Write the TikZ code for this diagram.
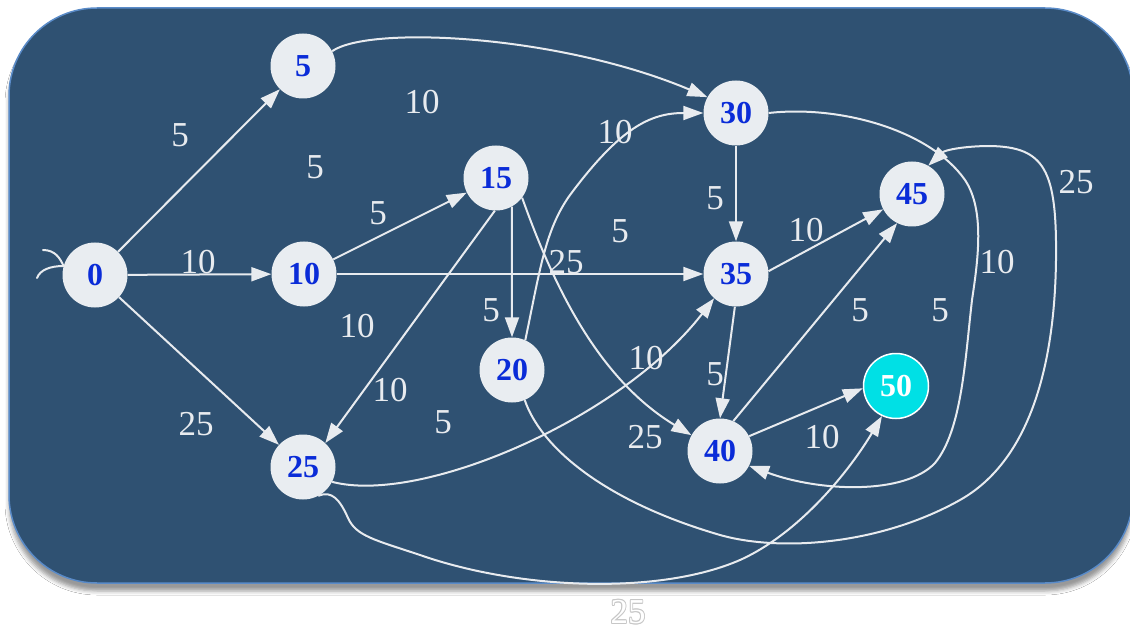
\documentclass[tikz,border=0pt]{standalone}
\usepackage{fontspec}
\setmainfont{Liberation Serif}
\usetikzlibrary{arrows.meta,shadows.blur}
\definecolor{bg}{HTML}{2F5172}
\definecolor{bord}{HTML}{5A8BC8}
\definecolor{edgec}{HTML}{E8EBEF}
\definecolor{nodefill}{HTML}{E9EDF1}
\definecolor{numblue}{HTML}{0A2CD8}
\definecolor{cyanfill}{HTML}{00E0E5}
\begin{document}
\begin{tikzpicture}[x=1pt,y=-1pt,
  state/.style={circle,fill=nodefill,minimum size=65pt,inner sep=0pt,
    font=\fontsize{32}{32}\selectfont\bfseries,text=numblue},
  final/.style={state,fill=cyanfill,draw=white,line width=1.5pt,text=white},
  arr/.style={draw=edgec,line width=2pt,-{Triangle[length=20pt,width=14pt]}},
  plain/.style={draw=edgec,line width=2pt,line cap=round},
  lbl/.style={text=edgec,font=\fontsize{35}{35}\selectfont,inner sep=0pt}]
\useasboundingbox (0,0) rectangle (1130,631);
\fill[white] (0,0) rectangle (1130,631);
\filldraw[fill=bg,draw=bord,line width=1.5pt,rounded corners=88pt,
  blur shadow={shadow xshift=0pt,shadow yshift=-8pt,shadow blur radius=4pt,shadow opacity=40}]
  (9,8) rectangle (1133,583);

% nodes
\node[state] (n0)  at (95,275)  {0};
\node[state] (n5)  at (303,66)  {5};
\node[state] (n10) at (304,274) {10};
\node[state] (n15) at (496,178) {15};
\node[state] (n20) at (512,370) {20};
\node[state] (n25) at (303,467) {25};
\node[state] (n30) at (736,113) {30};
\node[state] (n35) at (736,274) {35};
\node[state] (n40) at (720,451) {40};
\node[state] (n45) at (912,194) {45};
\node[final] (n50) at (896,386) {50};

% start mark
\coordinate (s1) at (37,278);
\coordinate (s2) at (43,250);
\draw[plain] (s1) .. controls (40,270) and (50,266) .. (n0.164);
\draw[plain] (s2) .. controls (55,250) and (60,258) .. (n0.164);

% straight edges
\draw[arr] (n0) -- (n5);
\draw[arr] (n0) -- (n10);
\draw[arr] (n0) -- (n25);
\draw[arr] (n10) -- (n15);
\draw[arr] (n10) -- (n35);
\draw[arr] (n15.-92) -- (n25.47);
\draw[arr] (n15.-61) -- (n20.north);
\draw[arr] (n30) -- (n35);
\draw[arr] (n35.-92) -- (n40.north);
\draw[arr] (n35.5) -- (n45.-152);
\draw[arr] (n40.66) -- (n45.-117);
\draw[arr] (n40.27) -- (n50.-176);

% curved edges
\draw[arr] (n5.27) .. controls (370,25) and (560,35) .. (n30.151);
\draw[arr] (n15.-37) .. controls (555,290) and (600,380) .. (n40.151);
\draw[arr] (n20.66) .. controls (540,270) and (545,230) .. (570,195)
  .. controls (620,128) and (650,113) .. (n30.west);
\draw[arr] (n25.-27) .. controls (420,505) and (620,420) .. (n35.-132);
\draw[arr] (n25.-62) .. controls (332,490) and (340,500) .. (348,518)
  .. controls (356,536) and (375,540) .. (420,555)
  .. controls (520,590) and (660,595) .. (740,560)
  .. controls (800,533) and (850,470) .. (n50.-115);
\draw[arr] (n20.-67) .. controls (540,445) and (600,500) .. (720,535)
  .. controls (780,552) and (880,545) .. (960,500)
  .. controls (1040,455) and (1055,340) .. (1056,260)
  .. controls (1057,170) and (1045,147) .. (990,146)
  .. controls (965,146) and (945,150) .. (n45.60);
\draw[arr] (n30.east) .. controls (840,105) and (930,130) .. (965,180)
  .. controls (985,210) and (978,260) .. (972,300)
  .. controls (965,360) and (962,430) .. (935,463)
  .. controls (905,495) and (820,492) .. (n40.-27);

% labels
\node[lbl] (l1)  at (180,135) {5};
\node[lbl] (l2)  at (422,102) {10};
\node[lbl] (l3)  at (315,167) {5};
\node[lbl] (l4)  at (378,213) {5};
\node[lbl] (l5)  at (198,262) {10};
\node[lbl] (l6)  at (357,326) {10};
\node[lbl] (l7)  at (390,390) {10};
\node[lbl] (l8)  at (196,424) {25};
\node[lbl] (l9)  at (443,422) {5};
\node[lbl] (l10) at (491,310) {5};
\node[lbl] (l11) at (566,262) {25};
\node[lbl] (l12) at (615,132) {10};
\node[lbl] (l13) at (620,231) {5};
\node[lbl] (l14) at (715,198) {5};
\node[lbl] (l15) at (806,230) {10};
\node[lbl] (l16) at (1076,182) {25};
\node[lbl] (l17) at (997,262) {10};
\node[lbl] (l18) at (860,310) {5};
\node[lbl] (l19) at (940,310) {5};
\node[lbl] (l20) at (646,358) {10};
\node[lbl] (l21) at (715,374) {5};
\node[lbl] (l22) at (645,437) {25};
\node[lbl] (l23) at (822,437) {10};

% faint outlined label below the box
\foreach \dx/\dy [count=\k] in {-0.8/0,0.8/0,0/-0.8,0/0.8,-0.6/-0.6,0.6/0.6,-0.6/0.6,0.6/-0.6}
  \node[lbl,text=black!22] (o\k) at (628+\dx,612+\dy) {25};
\node[lbl,text=white] (l24) at (628,612) {25};
\end{tikzpicture}
\end{document}
